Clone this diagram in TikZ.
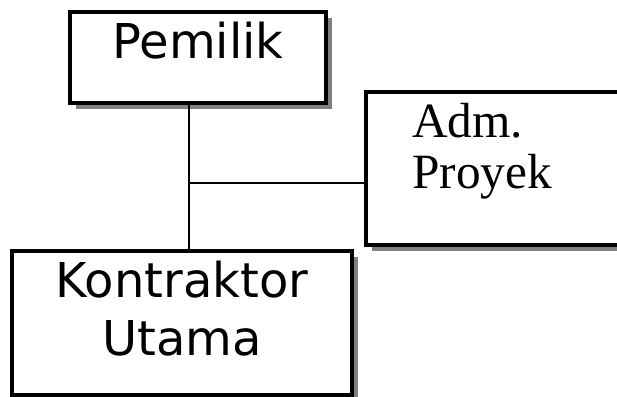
\documentclass[tikz,border=0pt]{standalone}
\usepackage{fontspec}
\usepackage{tikz}
\usetikzlibrary{shadows,positioning}
\newfontfamily\sansbox{DejaVu Sans}
\newfontfamily\serifbox{Liberation Serif}

\begin{document}
\begin{tikzpicture}[x=0.75pt,y=-0.75pt,
  kotak/.style={draw, line width=2.4pt, fill=white, inner sep=0pt,
    drop shadow={shadow xshift=4.5pt, shadow yshift=-4.5pt, fill=black!50, opacity=1}},
  garis/.style={line width=2.2pt},
  tulisan/.style={font=\sansbox\fontsize{36}{43}\selectfont, align=center, inner sep=0pt}]

\useasboundingbox (0,0) rectangle (617,396);
\clip (0,0) rectangle (617,396);

\node[kotak, minimum width=192pt, minimum height=68.25pt] (pemilik) at (198,57.5) {};
\node[kotak, minimum width=205.5pt, minimum height=114.75pt] (adm) at (503,168.5) {};
\node[kotak, minimum width=255pt, minimum height=108pt] (kontraktor) at (182,323) {};

\coordinate (cabang) at (189,183);
\draw[garis] (pemilik.south -| cabang) -- (kontraktor.north -| cabang);
\draw[garis] (cabang) -- (adm.west |- cabang);

    \node[tulisan, anchor=base] (tpemilik) at (198,58) {Pemilik};

    \node[tulisan, anchor=base] (tkontraktor) at (182,355) {Kontraktor\\Utama};

    \node[font=\serifbox\fontsize{37}{38}\selectfont, align=left, inner sep=0pt, anchor=base west] (tadm) at (412,188) {Adm.\\Proyek};
\end{tikzpicture}
\end{document}
